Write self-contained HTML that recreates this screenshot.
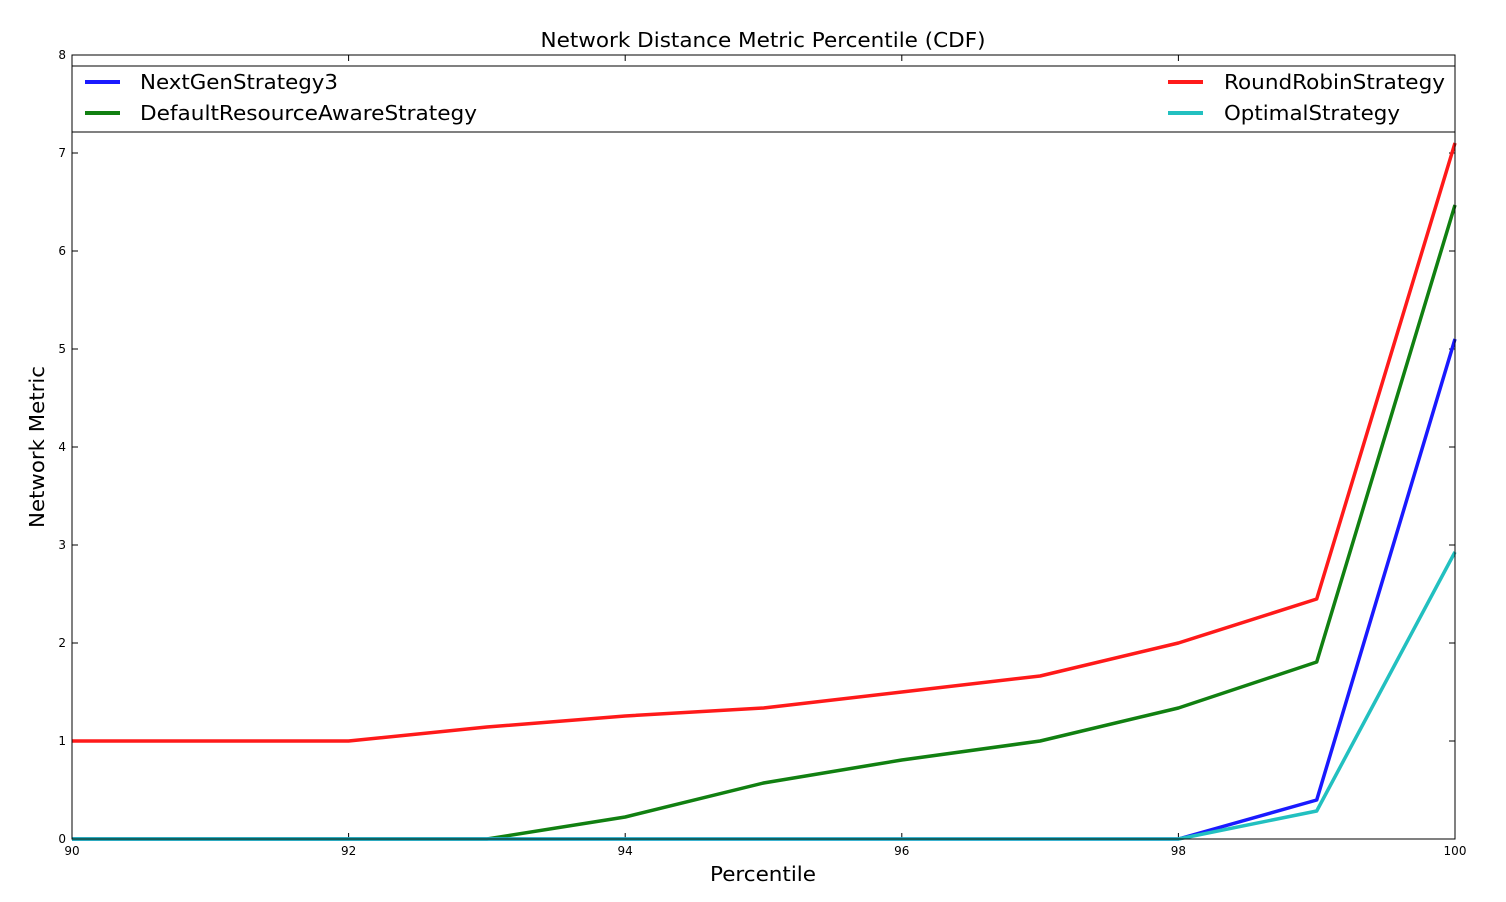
<!DOCTYPE html>
<html><head><meta charset="utf-8"><style>body{margin:0;background:#fff}svg{display:block}</style></head>
<body>
<svg width="1506" height="902" xmlns="http://www.w3.org/2000/svg" font-family="'DejaVu Sans','Liberation Sans',sans-serif">
<rect width="1506" height="902" fill="#fff"/>
<g stroke="#000" stroke-width="1">
<path d="M72,839v-6M348.6,839v-6M625.2,839v-6M901.8,839v-6M1178.4,839v-6M1455,839v-6M72,55v6M348.6,55v6M625.2,55v6M901.8,55v6M1178.4,55v6M1455,55v6"/>
<path d="M72,839h6M72,741h6M72,643h6M72,545h6M72,447h6M72,349h6M72,251h6M72,153h6M72,55h6M1455,839h-6M1455,741h-6M1455,643h-6M1455,545h-6M1455,447h-6M1455,349h-6M1455,251h-6M1455,153h-6M1455,55h-6"/>
</g>
<g fill="none" stroke-width="3.5" stroke-linejoin="round">
<polyline stroke="#ff1a1a" points="72,741 210.3,741 348.6,741 486.9,727 625.2,716 763.5,708 901.8,692 1040.1,676 1178.4,643 1316.7,599 1455,143"/>
<polyline stroke="#118011" points="72,839 210.3,839 348.6,839 486.9,839 625.2,817 763.5,783 901.8,760 1040.1,741 1178.4,708 1316.7,662 1455,205"/>
<polyline stroke="#1a1aff" points="72,839 1178.4,839 1316.7,800 1455,339"/>
<polyline stroke="#22c0c0" points="72,839 1178.4,839 1316.7,811 1455,552"/>
</g>
<rect x="72" y="55" width="1383" height="784" fill="none" stroke="#000" stroke-width="1"/>
<rect x="72" y="66" width="1383" height="66" fill="#fff" stroke="#000" stroke-width="1"/>
<g stroke-width="4">
<line x1="85" y1="82" x2="120" y2="82" stroke="#1a1aff"/>
<line x1="85" y1="113" x2="120" y2="113" stroke="#118011"/>
<line x1="1168" y1="82" x2="1203" y2="82" stroke="#ff1a1a"/>
<line x1="1168" y1="113" x2="1203" y2="113" stroke="#22c0c0"/>
</g>
<g font-size="20" fill="#000">
<text x="140" y="89" textLength="198" lengthAdjust="spacingAndGlyphs">NextGenStrategy3</text>
<text x="140" y="120" textLength="337" lengthAdjust="spacingAndGlyphs">DefaultResourceAwareStrategy</text>
<text x="1224" y="89" textLength="221" lengthAdjust="spacingAndGlyphs">RoundRobinStrategy</text>
<text x="1224" y="120" textLength="176" lengthAdjust="spacingAndGlyphs">OptimalStrategy</text>
</g>
<g font-size="12" fill="#000" text-anchor="middle">
<text x="72" y="855">90</text><text x="348.6" y="855">92</text><text x="625.2" y="855">94</text><text x="901.8" y="855">96</text><text x="1178.4" y="855">98</text><text x="1455" y="855">100</text>
</g>
<g font-size="12" fill="#000" text-anchor="end">
<text x="66" y="843">0</text><text x="66" y="745">1</text><text x="66" y="647">2</text><text x="66" y="549">3</text><text x="66" y="451">4</text><text x="66" y="353">5</text><text x="66" y="255">6</text><text x="66" y="157">7</text><text x="66" y="59">8</text>
</g>
<text x="763" y="47" font-size="20" text-anchor="middle" textLength="445" lengthAdjust="spacingAndGlyphs">Network Distance Metric Percentile (CDF)</text>
<text x="763" y="881" font-size="20" text-anchor="middle" textLength="106" lengthAdjust="spacingAndGlyphs">Percentile</text>
<text transform="translate(44,447) rotate(-90)" font-size="20" text-anchor="middle" textLength="162" lengthAdjust="spacingAndGlyphs">Network Metric</text>
</svg>
</body></html>
